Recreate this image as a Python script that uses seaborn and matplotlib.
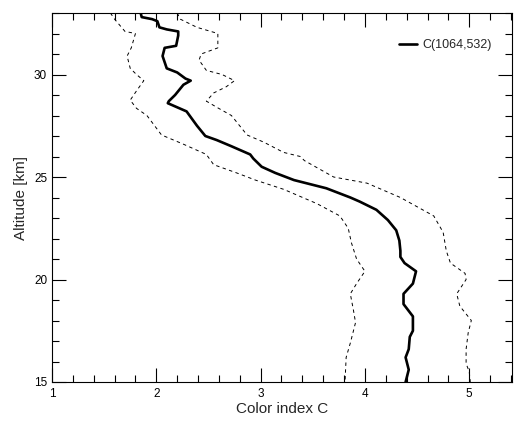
import matplotlib
matplotlib.use("Agg")
import matplotlib.pyplot as plt
import seaborn as sns
import pandas as pd
from matplotlib.ticker import MultipleLocator

# Mean colour index C(1064,532)
mean_alt = [33.0, 32.8, 32.7, 32.6, 32.3, 32.2, 32.1, 31.9, 31.4, 31.3, 30.9, 30.3, 30.1,
            29.8, 29.7, 29.5, 29.0, 28.7, 28.6, 28.2, 27.5, 27.0, 26.8, 26.5, 26.1, 25.9,
            25.5, 25.2, 24.85, 24.45, 24.0, 23.8, 23.4, 22.9, 22.4, 21.9, 21.4, 21.1, 20.8,
            20.4, 19.8, 19.3, 18.8, 18.2, 17.5, 17.2, 16.6, 16.2, 15.6, 15.0]
mean_c = [1.85, 1.86, 1.96, 2.01, 2.03, 2.10, 2.21, 2.21, 2.19, 2.08, 2.06, 2.10, 2.20,
          2.28, 2.33, 2.26, 2.18, 2.12, 2.11, 2.29, 2.39, 2.47, 2.58, 2.72, 2.90, 2.93,
          3.01, 3.14, 3.32, 3.63, 3.86, 3.95, 4.11, 4.22, 4.30, 4.33, 4.34, 4.34, 4.38,
          4.49, 4.46, 4.37, 4.37, 4.46, 4.46, 4.43, 4.42, 4.39, 4.42, 4.39]

# Upper bound (dashed, right)
upper_alt = [33.0, 32.7, 32.3, 32.0, 31.3, 31.0, 30.7, 30.2, 30.0, 29.7, 29.4, 29.1, 28.7,
             28.4, 28.0, 27.05, 26.7, 26.2, 26.0, 25.8, 25.0, 24.7, 24.0, 23.1, 22.3, 21.4,
             20.8, 20.3, 20.0, 19.3, 18.7, 18.0, 17.4, 16.6, 15.9, 15.5, 15.0]
upper_c = [2.20, 2.23, 2.39, 2.59, 2.59, 2.43, 2.41, 2.48, 2.63, 2.75, 2.67, 2.55, 2.48,
           2.58, 2.72, 2.87, 3.03, 3.22, 3.38, 3.42, 3.70, 4.02, 4.34, 4.66, 4.75, 4.78,
           4.82, 4.96, 4.97, 4.88, 4.91, 5.02, 4.99, 4.97, 4.97, 5.00, 5.01]

# Lower bound (dashed, left)
lower_alt = [33.0, 32.7, 32.1, 32.0, 31.3, 30.9, 30.3, 30.0, 29.7, 29.2, 28.75, 28.35,
             28.0, 27.05, 26.6, 26.1, 25.6, 25.2, 24.85, 24.4, 23.7, 23.1, 22.5, 21.8,
             21.0, 20.4, 19.8, 19.3, 18.5, 17.9, 16.9, 16.2, 15.1, 15.0]
lower_c = [1.56, 1.60, 1.70, 1.80, 1.76, 1.72, 1.75, 1.81, 1.88, 1.81, 1.75, 1.81,
           1.91, 2.05, 2.26, 2.48, 2.55, 2.77, 2.95, 3.22, 3.54, 3.76, 3.84, 3.87,
           3.92, 4.00, 3.92, 3.86, 3.89, 3.91, 3.86, 3.82, 3.81, 3.81]

sns.set_style("ticks")
plt.rcParams['font.family'] = ['Liberation Sans', 'DejaVu Sans']

fig = plt.figure(figsize=(5.14, 4.24), dpi=100)
ax = fig.add_axes([52/514, 1-382/424, (512-52)/514, (382-13)/424])

df_mean = pd.DataFrame({"c": mean_c, "alt": mean_alt})
df_up = pd.DataFrame({"c": upper_c, "alt": upper_alt})
df_lo = pd.DataFrame({"c": lower_c, "alt": lower_alt})

sns.lineplot(data=df_mean, x="c", y="alt", sort=False, estimator=None, ax=ax,
             color="black", linewidth=1.9, label="C(1064,532)")
sns.lineplot(data=df_up, x="c", y="alt", sort=False, estimator=None, ax=ax,
             color="black", linewidth=0.7, dashes=False)
sns.lineplot(data=df_lo, x="c", y="alt", sort=False, estimator=None, ax=ax,
             color="black", linewidth=0.7, dashes=False)
for ln in ax.lines[1:]:
    ln.set_linestyle((0, (3.5, 3.5)))

ax.set_xlim(1, 5.41)
ax.set_ylim(15, 33)
ax.xaxis.set_major_locator(MultipleLocator(1))
ax.xaxis.set_minor_locator(MultipleLocator(0.2))
ax.yaxis.set_major_locator(MultipleLocator(5))
ax.yaxis.set_minor_locator(MultipleLocator(1))
ax.tick_params(which="both", direction="in", top=True, right=True, width=0.8,
               labelsize=8.5, colors="black")
ax.tick_params(which="major", length=10)
ax.tick_params(which="minor", length=5)
ax.tick_params(axis="x", pad=4)
for s in ax.spines.values():
    s.set_visible(True)
    s.set_linewidth(0.8)
    s.set_color("black")

ax.set_xlabel("Color index C", fontsize=11, labelpad=2)
ax.set_ylabel("Altitude [km]", fontsize=11, labelpad=4)

leg = ax.legend(loc="center right", bbox_to_anchor=(0.981, 0.913), frameon=False,
                fontsize=9, handlelength=1.45, handletextpad=0.45)

fig.savefig("out.png", dpi=100)
